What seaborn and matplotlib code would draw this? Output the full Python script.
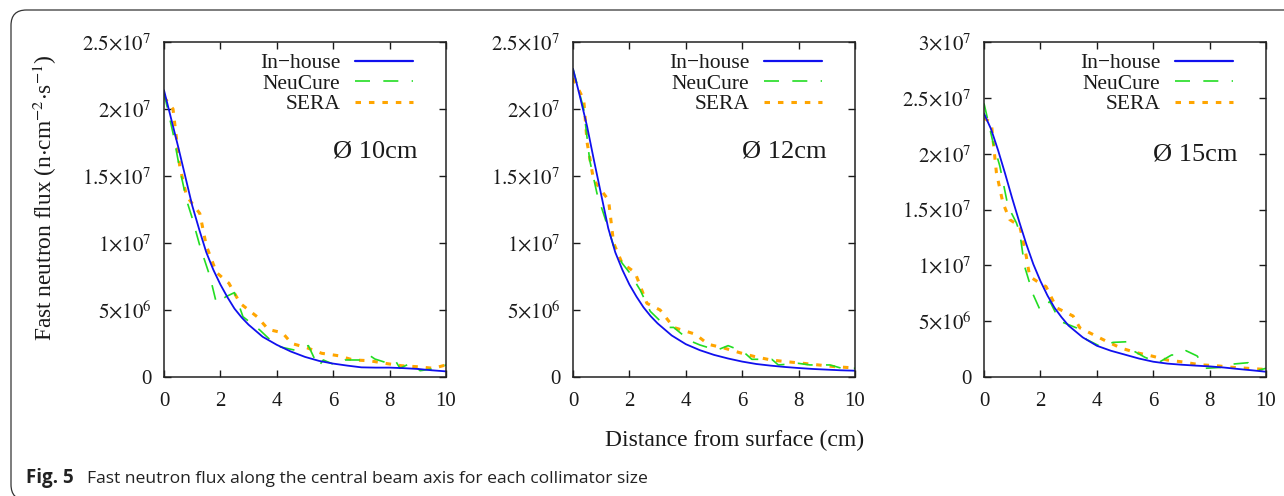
import numpy as np
import pandas as pd
import matplotlib
matplotlib.use("Agg")
import matplotlib.pyplot as plt
import seaborn as sns
from matplotlib.patches import FancyBboxPatch
from matplotlib.lines import Line2D

# ---------------- data (values in units of 1e6 n/cm^2/s) ----------------
panel_titles = ["Ø 10cm", "Ø 12cm", "Ø 15cm"]
series_names = ["In\u2212house", "NeuCure", "SERA"]

inhouse_x = [0, 0.25, 0.5, 0.75, 1, 1.25, 1.5, 1.75, 2, 2.25, 2.5, 2.75, 3, 3.5, 4, 4.5, 5, 5.5, 6, 6.5, 7, 7.5, 8, 8.5, 9, 9.5, 10]
inhouse_10 = [21.4, 19.3, 17.2, 15.0, 12.8, 11.0, 9.3, 8.0, 6.9, 5.95, 5.1, 4.45, 3.9, 3.0, 2.4, 1.9, 1.5, 1.2, 1.0, 0.85, 0.72, 0.70, 0.70, 0.66, 0.60, 0.50, 0.42]
inhouse_12 = [23.0, 20.9, 18.7, 16.1, 13.6, 11.1, 9.3, 8.0, 6.9, 6.0, 5.2, 4.55, 4.0, 3.1, 2.45, 2.0, 1.65, 1.38, 1.15, 0.97, 0.85, 0.75, 0.67, 0.60, 0.55, 0.50, 0.47]
inhouse_15 = [23.6, 22.2, 20.3, 18.2, 16.0, 13.9, 11.9, 10.1, 8.6, 7.3, 6.2, 5.35, 4.6, 3.55, 2.8, 2.35, 2.0, 1.65, 1.37, 1.2, 1.1, 1.02, 0.95, 0.85, 0.72, 0.60, 0.47]

neucure_10_x = [0, 0.32, 0.56, 0.8, 0.98, 1.27, 1.63, 1.86, 2.2, 2.5, 2.8, 3.4, 4.0, 4.65, 5.12, 5.47, 5.65, 6.06, 6.42, 7.07, 7.27, 7.48, 7.84, 8.19, 8.37, 8.78, 9.08, 9.67, 10]
neucure_10 = [21.2, 18.2, 15.5, 13.2, 12.0, 9.8, 7.5, 5.5, 6.0, 6.3, 4.5, 3.5, 2.3, 2.0, 2.34, 0.77, 1.27, 0.9, 1.27, 1.27, 1.64, 1.34, 1.1, 1.27, 0.65, 1.07, 0.47, 0.65, 0.9]
sera_10_x = [0, 0.32, 0.56, 0.8, 1.27, 1.5, 1.86, 2.3, 2.7, 3.3, 3.7, 4.2, 4.53, 5.06, 5.59, 6.18, 6.71, 7.27, 7.84, 8.43, 8.96, 9.55, 10]
sera_10 = [20.9, 20.0, 15.7, 13.5, 12.2, 9.8, 7.8, 7.0, 5.5, 4.5, 3.55, 3.3, 2.5, 2.19, 1.77, 1.59, 1.27, 1.22, 1.02, 0.84, 0.77, 0.65, 0.9]

neucure_12_x = [0, 0.38, 0.59, 0.85, 1.15, 1.44, 1.74, 2.0, 2.38, 2.74, 3.33, 3.57, 4.15, 4.5, 5.1, 5.5, 6.04, 6.34, 7.05, 7.28, 7.99, 8.4, 9.11, 9.53, 10]
neucure_12 = [23.0, 20.0, 16.2, 13.7, 11.75, 9.8, 8.5, 7.8, 6.5, 4.9, 3.7, 3.7, 2.7, 2.39, 2.0, 2.34, 1.89, 1.32, 1.32, 0.9, 1.02, 0.9, 0.9, 0.65, 0.65]
sera_12_x = [0, 0.38, 0.5, 0.73, 1.26, 1.44, 1.74, 2.2, 2.62, 3.09, 3.57, 4.33, 4.8, 5.39, 5.92, 6.45, 7.02, 7.58, 8.17, 8.7, 9.29, 9.88, 10]
sera_12 = [22.3, 20.7, 17.5, 14.7, 13.2, 10.0, 8.5, 7.8, 5.5, 5.0, 3.7, 3.2, 2.44, 2.14, 1.81, 1.52, 1.27, 1.14, 1.02, 0.9, 0.77, 0.69, 0.7]

neucure_15_x = [0, 0.32, 0.56, 0.85, 1.15, 1.27, 1.44, 1.74, 1.98, 2.15, 2.33, 2.69, 3.28, 3.63, 4.1, 4.58, 5.1, 5.35, 5.71, 6.18, 6.65, 6.89, 7.16, 7.56, 7.84, 8.49, 8.84, 9.37, 9.67, 10]
neucure_15 = [24.5, 21.0, 18.9, 15.3, 13.8, 12.9, 9.9, 7.4, 6.05, 6.05, 6.8, 5.0, 4.4, 3.37, 2.77, 3.1, 3.16, 2.27, 1.76, 1.28, 1.97, 1.97, 2.36, 1.88, 0.78, 0.87, 1.16, 1.28, 0.56, 0.78]
sera_15_x = [0, 0.26, 0.44, 0.67, 0.91, 1.27, 1.5, 1.62, 2.04, 2.2, 2.57, 3.16, 3.4, 3.87, 4.34, 4.88, 5.41, 5.95, 6.5, 7.07, 7.64, 8.23, 8.78, 9.34, 9.9, 10]
sera_15 = [23.2, 22.75, 18.3, 15.6, 14.1, 13.5, 10.8, 9.0, 8.3, 8.1, 6.2, 5.46, 4.4, 3.8, 3.2, 2.57, 2.18, 1.88, 1.52, 1.34, 1.1, 1.01, 0.87, 0.78, 0.69, 0.8]

x_ticks = [0, 2, 4, 6, 8, 10]
y_ticks_a = [0, 5e6, 1e7, 1.5e7, 2e7, 2.5e7]
y_labels_a = ["0", r"$5{\times}10^{6}$", r"$1{\times}10^{7}$", r"$1.5{\times}10^{7}$", r"$2{\times}10^{7}$", r"$2.5{\times}10^{7}$"]
y_ticks_b = [0, 5e6, 1e7, 1.5e7, 2e7, 2.5e7, 3e7]
y_labels_b = y_labels_a + [r"$3{\times}10^{7}$"]
y_max = [2.5e7, 2.5e7, 3e7]

# ---------------- style ----------------
sns.set_style("ticks")
plt.rcParams["font.family"] = ["Liberation Serif", "DejaVu Serif"]
plt.rcParams["mathtext.fontset"] = "stix"

fig = plt.figure(figsize=(12.84, 4.96), dpi=100)
W, H = 1284, 496
lefts = [164, 573, 984]
ax_w, ax_top, ax_bot = 282, 42, 377

col_in, col_neu, col_sera = "#1010ee", "#22dd22", "#ffa500"
txt_col = "#1a1a1a"

panels = [
    (inhouse_10, neucure_10_x, neucure_10, sera_10_x, sera_10),
    (inhouse_12, neucure_12_x, neucure_12, sera_12_x, sera_12),
    (inhouse_15, neucure_15_x, neucure_15, sera_15_x, sera_15),
]

for i, (inh, nx, ny, sx, sy) in enumerate(panels):
    ax = fig.add_axes([lefts[i] / W, 1 - ax_bot / H, ax_w / W, (ax_bot - ax_top) / H])
    df_in = pd.DataFrame({"x": inhouse_x, "y": np.array(inh) * 1e6})
    df_n = pd.DataFrame({"x": nx, "y": np.array(ny) * 1e6})
    df_s = pd.DataFrame({"x": sx, "y": np.array(sy) * 1e6})
    sns.lineplot(data=df_s, x="x", y="y", ax=ax, color=col_sera, lw=2.2,
                 estimator=None, sort=False)
    ax.lines[-1].set_dashes((1.8, 2.6))
    sns.lineplot(data=df_n, x="x", y="y", ax=ax, color=col_neu, lw=1.2,
                 estimator=None, sort=False)
    ax.lines[-1].set_dashes((9, 8))
    sns.lineplot(data=df_in, x="x", y="y", ax=ax, color=col_in, lw=1.3,
                 estimator=None, sort=False)

    ax.set_xlim(0, 10)
    ax.set_ylim(0, y_max[i])
    ax.set_xticks(x_ticks)
    ax.set_xticklabels([str(t) for t in x_ticks])
    if i < 2:
        ax.set_yticks(y_ticks_a)
        ax.set_yticklabels(y_labels_a)
    else:
        ax.set_yticks(y_ticks_b)
        ax.set_yticklabels(y_labels_b)
    ax.tick_params(direction="in", length=5, width=1, top=True, right=True,
                   labelsize=15, colors=txt_col)
    ax.tick_params(axis="y", pad=9)
    ax.tick_params(axis="x", pad=11)
    for s in ax.spines.values():
        s.set_linewidth(1.1)
        s.set_color("#222222")
    ax.set_xlabel("")
    ax.set_ylabel("")

    handles = [
        Line2D([], [], color=col_in, lw=1.6),
        Line2D([], [], color=col_neu, lw=1.2, dashes=(9, 8)),
        Line2D([], [], color=col_sera, lw=2.2, dashes=(1.8, 2.6)),
    ]
    leg = ax.legend(handles, series_names, loc="upper right", bbox_to_anchor=(0.93, 1.005),
                    frameon=False, markerfirst=False, fontsize=15.5, handlelength=2.7,
                    handletextpad=0.7, labelspacing=0.02, borderaxespad=0.2)
    for t in leg.get_texts():
        t.set_color(txt_col)
    ax.text(0.748, 0.672 if i < 2 else 0.663, panel_titles[i], transform=ax.transAxes,
            ha="center", va="center", fontsize=19, color=txt_col)

fig.text(45 / W, 1 - 198 / H, r"Fast neutron flux (n$\cdot$cm$^{-2}$$\cdot$s$^{-1}$)",
         rotation=90, ha="center", va="center", fontsize=16.8, color=txt_col)
fig.text(735 / W, 1 - 440 / H, "Distance from surface (cm)", ha="center", va="center",
         fontsize=17, color=txt_col)

# caption and frame
fig.text(26 / W, 1 - 483 / H, "Fig. 5", ha="left", va="baseline", fontsize=13.5,
         fontweight="bold", family=["Open Sans", "DejaVu Sans"], color="#222222")
fig.text(87 / W, 1 - 483 / H, "Fast neutron flux along the central beam axis for each collimator size",
         ha="left", va="baseline", fontsize=12.6, family=["Open Sans", "DejaVu Sans"], color="#222222")
frame = FancyBboxPatch((11 / W, -4 / H), 1.2, 1 - 6 / H, boxstyle="round,pad=0,rounding_size=0.012",
                       transform=fig.transFigure, fill=False, edgecolor="#333333", lw=0.9,
                       mutation_aspect=W / H)
fig.patches.append(frame)

fig.savefig("out.png", dpi=100)
